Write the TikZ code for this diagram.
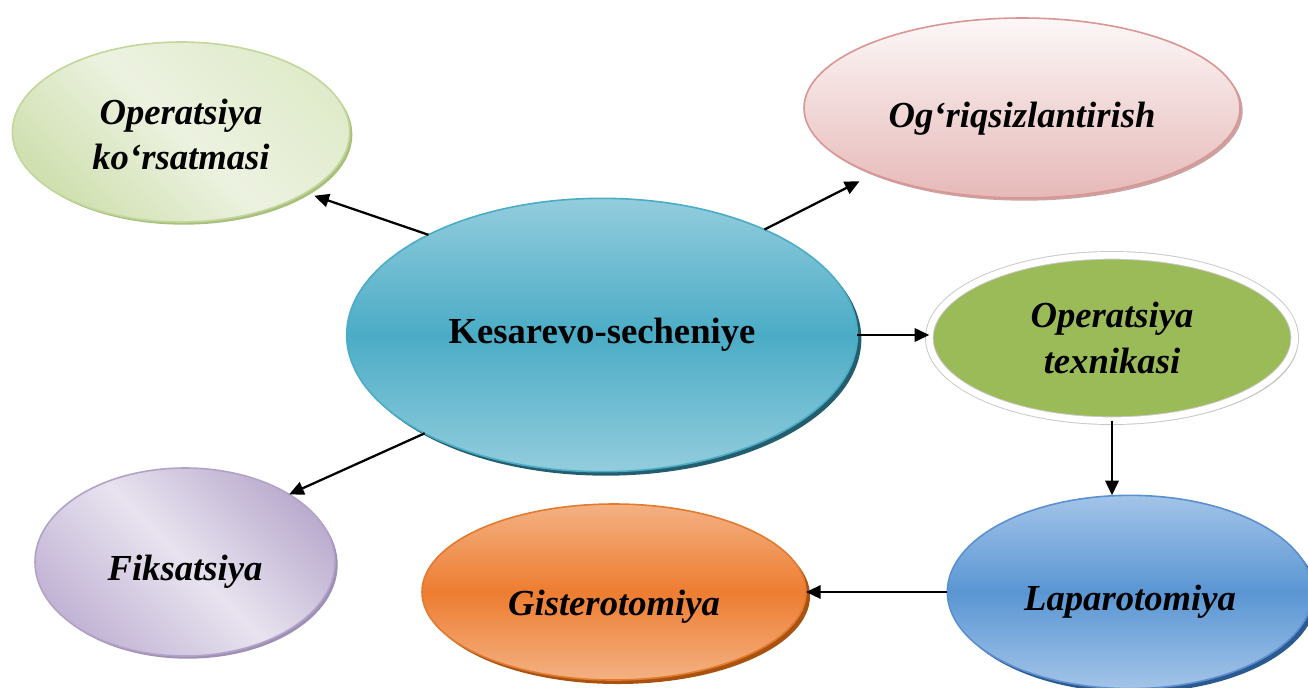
\documentclass[tikz,border=0pt]{standalone}
\usepackage{fontspec}
\setmainfont{Liberation Serif}
\usetikzlibrary{shadows,arrows.meta,shapes.geometric}
\definecolor{cTop}{HTML}{93CDDD}
\definecolor{cMid}{HTML}{4BACC6}
\definecolor{cEdge}{HTML}{4BACC6}
\definecolor{cShadow}{HTML}{245E6E}
\definecolor{gA}{HTML}{D0E0B0}
\definecolor{gB}{HTML}{ECF2E0}
\definecolor{gC}{HTML}{E0EBCB}
\definecolor{gEdge}{HTML}{C3D69B}
\definecolor{gShadow}{HTML}{A9BF7C}
\definecolor{pTop}{HTML}{FCF7F7}
\definecolor{pBot}{HTML}{E6B9B8}
\definecolor{pEdge}{HTML}{D99694}
\definecolor{pShadow}{HTML}{C9A3A2}
\definecolor{oGreen}{HTML}{9BBB59}
\definecolor{oRing}{HTML}{C8C8C8}
\definecolor{oShadow}{HTML}{B4B4B4}
\definecolor{bTop}{HTML}{A3C4E8}
\definecolor{bMid}{HTML}{5A96D3}
\definecolor{bEdge}{HTML}{5B8FCF}
\definecolor{bShadow}{HTML}{2B5A90}
\definecolor{rTop}{HTML}{F4B183}
\definecolor{rMid}{HTML}{ED7D31}
\definecolor{rEdge}{HTML}{E07B2F}
\definecolor{rShadow}{HTML}{A9520F}
\definecolor{vA}{HTML}{C2B4D5}
\definecolor{vB}{HTML}{E8E3EF}
\definecolor{vC}{HTML}{BBADCF}
\definecolor{vEdge}{HTML}{B3A2C7}
\definecolor{vShadow}{HTML}{9E8FB5}
\newcommand\tdown[2]{\raisebox{-#1}[\height][\depth]{#2}}
\tikzset{
  oval/.style={ellipse, inner sep=0pt, outer sep=0pt, align=center,
    font=\fontsize{27.5}{34}\selectfont\bfseries\itshape, line width=1.2pt},
  conn/.style={line width=1.7pt, -{Triangle[length=11pt,width=10pt]}},
}
\begin{document}
\begin{tikzpicture}[x=0.75pt,y=-0.75pt]
\useasboundingbox (0,0) rectangle (1308,687);
% nodes
\node[oval, minimum width=253pt, minimum height=135pt, draw=gEdge,
  left color=gA, right color=gC, middle color=gB, shading angle=135,
  drop shadow={shadow xshift=2pt, shadow yshift=-2pt, fill=gShadow, opacity=1}]
  (opk) at (181,132) {\rule{0pt}{23pt}Operatsiya\\ko‘rsatmasi};
\node[oval, minimum width=327pt, minimum height=135pt, draw=pEdge,
  top color=pTop, bottom color=pBot,
  drop shadow={shadow xshift=2pt, shadow yshift=-2pt, fill=pShadow, opacity=1}]
  (ogr) at (1022,108) {\tdown{8pt}{Og‘riqsizlantirish}};
\node[oval, minimum width=383pt, minimum height=205pt, draw=cEdge,
  top color=cTop, bottom color=cTop, middle color=cMid,
  font=\fontsize{27.5}{34}\selectfont\bfseries,
  drop shadow={shadow xshift=3pt, shadow yshift=-3pt, fill=cShadow, opacity=1}]
  (c) at (602,335) {Kesarevo-secheniye};
\node[oval, minimum width=274pt, minimum height=124pt, fill=oGreen,
  draw=oRing, line width=0.7pt, double=white, double distance=5pt,
  drop shadow={shadow xshift=2.5pt, shadow yshift=-2.5pt, fill=oShadow, opacity=1}]
  (opt) at (1112,338) {Operatsiya\\texnikasi};
\node[oval, minimum width=274pt, minimum height=145pt, draw=bEdge,
  top color=bTop, bottom color=bTop, middle color=bMid,
  drop shadow={shadow xshift=3pt, shadow yshift=-3pt, fill=bShadow, opacity=1}]
  (lap) at (1130,592) {\tdown{7pt}{Laparotomiya}};
\node[oval, minimum width=288pt, minimum height=132pt, draw=rEdge,
  top color=rTop, bottom color=rTop, middle color=rMid,
  drop shadow={shadow xshift=3pt, shadow yshift=-3pt, fill=rShadow, opacity=1}]
  (gis) at (614,592) {\tdown{11pt}{Gisterotomiya}};
\node[oval, minimum width=225pt, minimum height=141pt, draw=vEdge,
  left color=vA, right color=vC, middle color=vB, shading angle=135,
  drop shadow={shadow xshift=2pt, shadow yshift=-2pt, fill=vShadow, opacity=1}]
  (fik) at (185,562) {\tdown{7.5pt}{Fiksatsiya}};
% connectors
\draw[conn, shorten >=7pt] (c.150) -- (opk.-26);
\draw[conn, shorten >=12pt] (c.33) -- (ogr.204);
\draw[conn] (c.east) -- (c.east -| opt.west);
\draw[conn] (c.209) -- (fik.33);
\draw[conn] (opt.south) -- (opt.south |- lap.north);
\draw[conn] (lap.west) -- (gis.east);
\end{tikzpicture}
\end{document}
